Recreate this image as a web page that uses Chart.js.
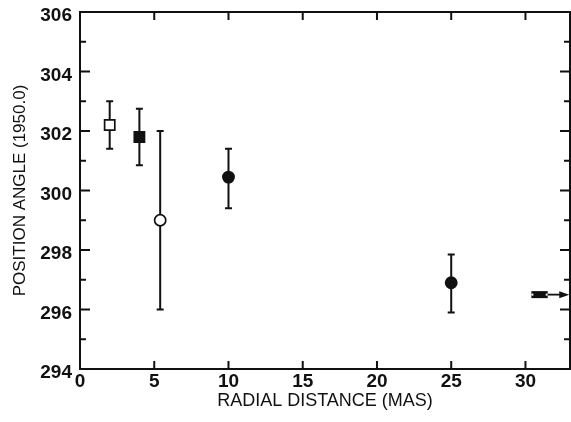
<!DOCTYPE html>
<html>
<head>
<meta charset="utf-8">
<script src="https://cdn.jsdelivr.net/npm/chart.js@4.4.0/dist/chart.umd.min.js"></script>
<style>
  html, body { margin: 0; padding: 0; background: #fff; }
  #wrap { width: 571px; height: 422px; }
</style>
</head>
<body>
<div id="wrap"><canvas id="mycanvas"></canvas></div>
<script>
// values
var radialDistance = [2, 4, 5.4, 10, 25];
var positionAngle = [302.2, 301.8, 299.0, 300.45, 296.9];
var angleLow = [301.4, 300.85, 296.0, 299.4, 295.9];
var angleHigh = [303.0, 302.75, 302.0, 301.4, 297.85];
var markerKind = ['openSquare', 'filledSquare', 'openCircle', 'filledCircle', 'filledCircle'];

// lower limit point with arrow to the right
var limitBar = [30.4, 31.5];
var limitArrowEnd = 32.95;
var limitAngle = 296.5;

var xTickValues = [0, 5, 10, 15, 20, 25, 30];
var yTickLabels = [294, 296, 298, 300, 302, 304, 306];

var FONT = "'Liberation Sans Narrow', 'Liberation Sans', sans-serif";
var INK = '#111';

var datasets = [];
for (var i = 0; i < radialDistance.length; i++) {
  var k = markerKind[i];
  var square = k.indexOf('Square') > 0;
  datasets.push({
    data: [{x: radialDistance[i], y: positionAngle[i]}],
    pointStyle: square ? 'rect' : 'circle',
    pointRadius: square ? 7.2 : 5.6,
    pointBackgroundColor: (k.indexOf('open') === 0) ? '#fff' : INK,
    pointBorderColor: INK,
    pointBorderWidth: 1.7,
    showLine: false
  });
}

var paperPlugin = {
  id: 'paper',
  beforeDatasetsDraw: function(chart) {
    var ctx = chart.ctx, xs = chart.scales.x, ys = chart.scales.y;
    ctx.save();
    ctx.strokeStyle = INK;
    ctx.lineWidth = 2;
    for (var i = 0; i < radialDistance.length; i++) {
      var px = xs.getPixelForValue(radialDistance[i]);
      var top = ys.getPixelForValue(angleHigh[i]);
      var bot = ys.getPixelForValue(angleLow[i]);
      ctx.beginPath();
      ctx.moveTo(px, top); ctx.lineTo(px, bot);
      ctx.moveTo(px - 3.5, top); ctx.lineTo(px + 3.5, top);
      ctx.moveTo(px - 3.5, bot); ctx.lineTo(px + 3.5, bot);
      ctx.stroke();
    }
    ctx.restore();
  },
  afterDatasetsDraw: function(chart) {
    var ctx = chart.ctx, xs = chart.scales.x, ys = chart.scales.y;
    var py = ys.getPixelForValue(limitAngle);
    var x0 = xs.getPixelForValue(limitBar[0]);
    var x1 = xs.getPixelForValue(limitBar[1]);
    var x2 = xs.getPixelForValue(limitArrowEnd);
    ctx.save();
    ctx.fillStyle = INK;
    ctx.strokeStyle = INK;
    ctx.fillRect(x0, py - 3.5, x1 - x0, 7);
    // notches at both ends
    ctx.fillStyle = '#fff';
    ctx.fillRect(x0, py - 1, 2, 2);
    ctx.fillRect(x1 - 2, py - 1, 2, 2);
    ctx.fillStyle = INK;
    ctx.lineWidth = 1.8;
    ctx.beginPath();
    ctx.moveTo(x1, py); ctx.lineTo(x2 - 7, py);
    ctx.stroke();
    ctx.beginPath();
    ctx.moveTo(x2, py); ctx.lineTo(x2 - 10, py - 3.5); ctx.lineTo(x2 - 10, py + 3.5);
    ctx.closePath();
    ctx.fill();
    ctx.restore();
  },
  afterDraw: function(chart) {
    var ctx = chart.ctx, a = chart.chartArea, xs = chart.scales.x, ys = chart.scales.y;
    ctx.save();
    ctx.strokeStyle = INK;
    ctx.lineWidth = 2;
    ctx.strokeRect(a.left, a.top, a.right - a.left, a.bottom - a.top);
    ctx.beginPath();
    xs.ticks.forEach(function(t) {
      var px = xs.getPixelForValue(t.value);
      ctx.moveTo(px, a.bottom); ctx.lineTo(px, a.bottom - 8);
      ctx.moveTo(px, a.top); ctx.lineTo(px, a.top + 8);
    });
    ys.ticks.forEach(function(t) {
      var py = ys.getPixelForValue(t.value);
      var len = (t.value % 2 === 0) ? 10 : 6;
      ctx.moveTo(a.left, py); ctx.lineTo(a.left + len, py);
      ctx.moveTo(a.right, py); ctx.lineTo(a.right - len, py);
    });
    ctx.stroke();
    ctx.restore();
  }
};

var ctx = document.getElementById('mycanvas');

var myChart = new Chart(ctx, {
  type: 'scatter',
  data: { datasets: datasets },
  options: {
    responsive: true,
    maintainAspectRatio: false,
    animation: false,
    layout: { autoPadding: false, padding: { top: 12, right: 1, left: 0, bottom: 0 } },
    plugins: { legend: { display: false }, tooltip: { enabled: false } },
    scales: {
      x: {
        type: 'linear',
        min: 0,
        max: 33,
        afterBuildTicks: function(s) { s.ticks = xTickValues.map(function(v) { return {value: v}; }); },
        afterFit: function(s) { s.height = 53; s.paddingLeft = 0; s.paddingRight = 0; },
        grid: { display: false, drawTicks: false },
        border: { display: false },
        ticks: { color: INK, padding: 1, font: { family: FONT, size: 19, weight: 'bold' } },
        title: {
          display: true,
          text: 'RADIAL DISTANCE (MAS)',
          color: INK,
          padding: { top: 0, bottom: 10 },
          font: { family: FONT, size: 18 }
        }
      },
      y: {
        type: 'linear',
        min: 294,
        max: 306,
        afterBuildTicks: function(s) {
          var t = [];
          for (var v = 294; v <= 306; v++) t.push({value: v});
          s.ticks = t;
        },
        afterFit: function(s) { s.width = 80; s.paddingTop = 0; s.paddingBottom = 0; },
        grid: { display: false, drawTicks: false },
        border: { display: false },
        ticks: {
          color: INK,
          padding: 8,
          labelOffset: 4,
          autoSkip: false,
          font: { family: FONT, size: 19, weight: 'bold' },
          callback: function(value) { return yTickLabels.indexOf(value) >= 0 ? String(value) : ''; }
        },
        title: {
          display: true,
          text: 'POSITION ANGLE (1950.0)',
          color: INK,
          padding: { top: 10, bottom: 0 },
          font: { family: FONT, size: 17 }
        }
      }
    }
  },
  plugins: [paperPlugin]
});
</script>
</body>
</html>
